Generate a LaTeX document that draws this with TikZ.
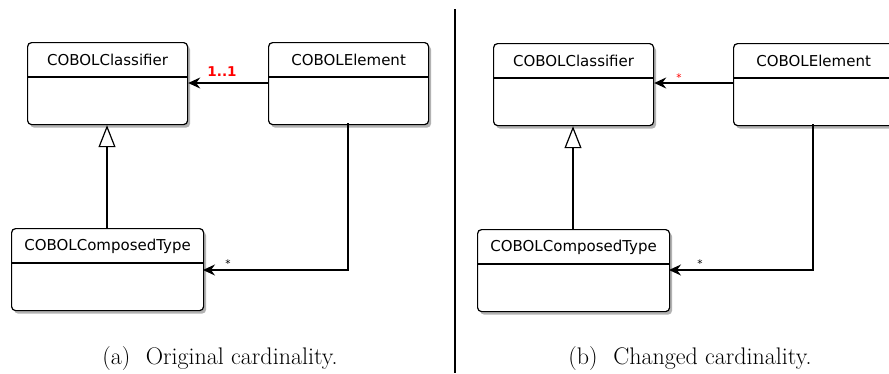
\documentclass[tikz,border=0pt]{standalone}
\usepackage{fontspec}
\newfontfamily\umlfont{DejaVu Sans}
\usetikzlibrary{arrows.meta,shadows}
\tikzset{
  classbox/.style={draw=black, line width=1.2pt, rounded corners=4pt, fill=white,
    drop shadow={shadow xshift=2.5pt, shadow yshift=-3pt, opacity=0.3, fill=black},
    minimum height=82pt, inner sep=0pt},
  divider/.style={line width=1.2pt},
  cname/.style={font=\umlfont\fontsize{15}{17}\selectfont, inner sep=0pt},
  assoc/.style={line width=1.2pt, -{Stealth[length=12pt, width=11pt, inset=4pt]}},
  gen/.style={line width=1.2pt, -{Triangle[open, length=22pt, width=17pt, line width=1.2pt]}},
  mult/.style={font=\umlfont\fontsize{10.5}{12}\selectfont, inner sep=0pt},
  multred/.style={font=\umlfont\bfseries\fontsize{13.5}{15}\selectfont, text=red, inner sep=0pt},
  caption/.style={font=\fontsize{24}{28}\selectfont, inner sep=0pt, anchor=base}
}
\begin{document}
\begin{tikzpicture}[x=1pt, y=-1pt]
\useasboundingbox (0,0) rectangle (889,373);
\begin{scope}
\clip (0,0) rectangle (889,373);
% ---------- Left panel ----------
\node[classbox, minimum width=160pt, anchor=north west] (c1) at (27,42) {};
\node[classbox, minimum width=160pt, anchor=north west] (e1) at (268,42) {};
\node[classbox, minimum width=192pt, anchor=north west] (t1) at (11,228) {};
\draw[divider] ([yshift=-35pt]c1.north west) -- ([yshift=-35pt]c1.north east);
\draw[divider] ([yshift=-35pt]e1.north west) -- ([yshift=-35pt]e1.north east);
\draw[divider] ([yshift=-35pt]t1.north west) -- ([yshift=-35pt]t1.north east);
\node[cname] (c1n) at ([yshift=-18pt]c1.north) {COBOLClassifier};
\node[cname] (e1n) at ([yshift=-18pt]e1.north) {COBOLElement};
\node[cname] (t1n) at ([yshift=-18pt]t1.north) {COBOLComposedType};
\coordinate (e1d) at (348,123);
\coordinate (t1a) at (203,270);
\draw[assoc] (e1.west |- 0,83) -- (c1.east |- 0,83);
\node[multred] (m1) at (222,72) {1..1};
\draw[gen] (t1.north -| 107,0) -- (c1.south -| 107,0);
\draw[assoc] (e1d) |- (t1a);
\node[mult] (s1) at (228,264) {*};
\node[caption] (cap1) at (220,364) {(a)\hskip0.65em Original cardinality.};
% ---------- Separator ----------
\coordinate (sepT) at (455,9);
\coordinate (sepB) at (455,373);
\draw[line width=1.2pt] (sepT) -- (sepB);
% ---------- Right panel ----------
\node[classbox, minimum width=160pt, anchor=north west] (c2) at (493,43) {};
\node[classbox, minimum width=160pt, anchor=north west] (e2) at (733,43) {};
\node[classbox, minimum width=192pt, anchor=north west] (t2) at (477,229) {};
\draw[divider] ([yshift=-35pt]c2.north west) -- ([yshift=-35pt]c2.north east);
\draw[divider] ([yshift=-35pt]e2.north west) -- ([yshift=-35pt]e2.north east);
\draw[divider] ([yshift=-35pt]t2.north west) -- ([yshift=-35pt]t2.north east);
\node[cname] (c2n) at ([yshift=-18pt]c2.north) {COBOLClassifier};
\node[cname] (e2n) at ([yshift=-18pt]e2.north) {COBOLElement};
\node[cname] (t2n) at ([yshift=-18pt]t2.north) {COBOLComposedType};
\coordinate (e2d) at (813,124);
\coordinate (t2a) at (669,270);
\draw[assoc] (e2.west |- 0,83) -- (c2.east |- 0,83);
\node[mult, text=red] (m2) at (679,78) {*};
\draw[gen] (t2.north -| 573,0) -- (c2.south -| 573,0);
\draw[assoc] (e2d) |- (t2a);
\node[mult] (s2) at (700,264) {*};
\node[caption] (cap2) at (690,364) {(b)\hskip0.65em Changed cardinality.};
\end{scope}
\end{tikzpicture}
\end{document}
